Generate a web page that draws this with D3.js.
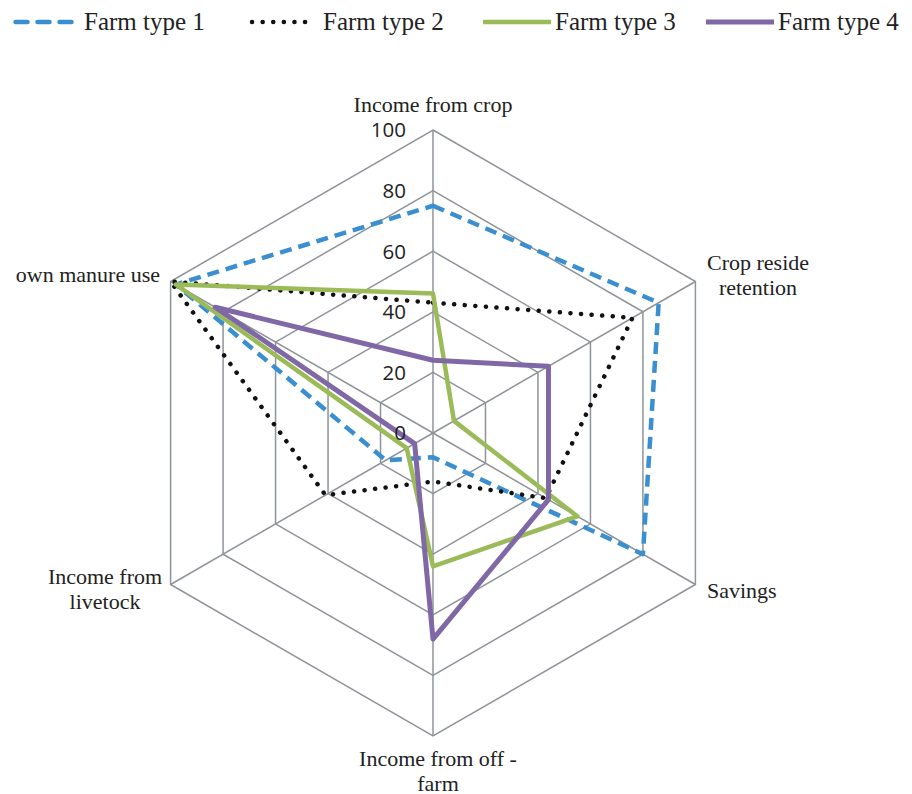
<!DOCTYPE html>
<html>
<head>
  <meta charset="utf-8">
  <title>Farm type radar</title>
  <script src="https://d3js.org/d3.v7.min.js"></script>
  <style>
    body { margin: 0; background: #fff; }
    svg text { fill: #222; }
  </style>
</head>
<body>
  <div id="chart"></div>
  <script>
    // axes, clockwise from the top
    var axes = ["Income from crop", "Crop reside retention", "Savings",
                "Income from off -farm", "Income from livetock", "own manure use"];
    var ticks = [0, 20, 40, 60, 80, 100];
    var seriesNames = ["Farm type 1", "Farm type 2", "Farm type 3", "Farm type 4"];
    var type1 = [75, 86, 80, 8, 18, 98];
    var type2 = [43, 76, 43, 16, 41, 100];
    var type3 = [46, 8, 55, 44, 10, 98];
    var type4 = [24, 44, 44, 68, 7, 83];

    var width = 912, height = 794,
      cx = 433, cy = 433, R = 303;

    var svg = d3.select("#chart").append("svg")
      .attr("width", width).attr("height", height);

    var r = d3.scaleLinear().domain([0, 100]).range([0, R]);
    var angle = d3.scaleLinear().domain([0, axes.length]).range([0, 2 * Math.PI]);

    var g = svg.append("g").attr("transform", "translate(" + cx + "," + cy + ")");

    // grid hexagons
    var ring = d3.lineRadial()
      .angle(function(d, i) { return angle(i); })
      .radius(function(d) { return r(d); })
      .curve(d3.curveLinearClosed);

    ticks.slice(1).forEach(function(t) {
      g.append("path")
        .attr("d", ring(axes.map(function() { return t; })))
        .attr("fill", "none").attr("stroke", "#8f949a").attr("stroke-width", 1.5);
    });

    axes.forEach(function(a, i) {
      var p = d3.pointRadial(angle(i), r(100));
      g.append("line")
        .attr("x1", 0).attr("y1", 0).attr("x2", p[0]).attr("y2", p[1])
        .attr("stroke", "#8f949a").attr("stroke-width", 1.5);
    });

    // series
    var styles = [
      { color: "#3a8fd0", width: 4.5, dash: "12 7", cap: "butt" },
      { color: "#111111", width: 4.5, dash: "0.1 10.5", cap: "round" },
      { color: "#9bbb59", width: 4.5, dash: null, cap: "butt" },
      { color: "#8068a6", width: 5, dash: null, cap: "butt" }
    ];
    var allSeries = [type1, type2, type3, type4];

    allSeries.forEach(function(s, k) {
      g.append("path")
        .attr("d", ring(s))
        .attr("fill", "none")
        .attr("stroke", styles[k].color)
        .attr("stroke-width", styles[k].width)
        .attr("stroke-dasharray", styles[k].dash)
        .attr("stroke-linecap", styles[k].cap)
        .attr("stroke-linejoin", "round");
    });

    // tick labels
    g.selectAll(".tick").data(ticks).enter().append("text")
      .attr("x", -27).attr("y", function(d) { return -r(d); })
      .attr("dy", "0.36em")
      .attr("text-anchor", "end")
      .style("font-family", "'Open Sans', sans-serif")
      .style("font-size", "20.5px")
      .text(function(d) { return d; });

    // axis labels
    var labelPos = [
      { x: 433, y: 112, anchor: "middle", lines: ["Income from crop"] },
      { x: 758, y: 270, anchor: "middle", lines: ["Crop reside", "retention"] },
      { x: 707, y: 598, anchor: "start", lines: ["Savings"] },
      { x: 438, y: 766, anchor: "middle", lines: ["Income from off -", "farm"] },
      { x: 105, y: 584, anchor: "middle", lines: ["Income from", "livetock"] },
      { x: 160, y: 282, anchor: "end", lines: ["own manure use"] }
    ];
    labelPos.forEach(function(l) {
      var t = svg.append("text")
        .attr("text-anchor", l.anchor)
        .style("font-family", "'Liberation Serif', serif")
        .style("font-size", "22px");
      l.lines.forEach(function(line, j) {
        t.append("tspan").attr("x", l.x).attr("y", l.y + j * 24.5).text(line);
      });
    });

    // legend
    var legendX = [13, 250, 483, 706];
    var legend = svg.selectAll(".legend").data(seriesNames).enter().append("g")
      .attr("transform", function(d, i) { return "translate(" + legendX[i] + ",22)"; });
    legend.append("line")
      .attr("x1", function(d, i) { return i == 0 ? 2.5 : (i == 1 ? 2 : 0); })
      .attr("x2", function(d, i) { return i == 1 ? 63 : (i == 0 ? 61 : 68); })
      .attr("y1", 0).attr("y2", 0)
      .attr("stroke", function(d, i) { return styles[i].color; })
      .attr("stroke-width", function(d, i) { return styles[i].width; })
      .attr("stroke-dasharray", function(d, i) { return i == 0 ? "12 10" : (i == 1 ? "0.1 10.5" : null); })
      .attr("stroke-linecap", function(d, i) { return i == 1 || i == 0 ? "round" : "butt"; });
    legend.append("text")
      .attr("x", function(d, i) { return i == 0 ? 71 : (i == 1 ? 73 : 72); })
      .attr("y", 8)
      .style("font-family", "'Liberation Serif', serif")
      .style("font-size", "25px")
      .text(function(d) { return d; });
  </script>
</body>
</html>
